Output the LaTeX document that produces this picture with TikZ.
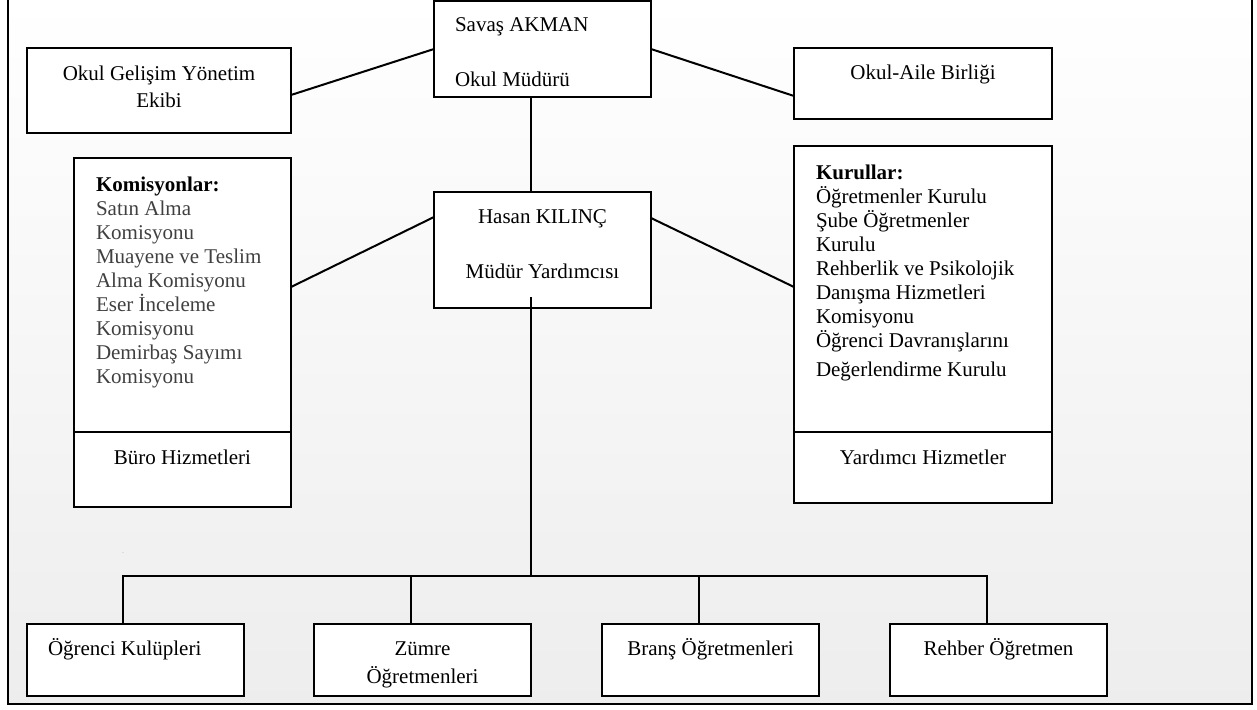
\documentclass[tikz,border=0pt]{standalone}
\usepackage{fontspec}
\setmainfont{Liberation Serif}
\usetikzlibrary{calc}
\definecolor{itemgray}{HTML}{404040}
\begin{document}
\begin{tikzpicture}[x=1pt,y=-1pt,
  box/.style={draw=black, line width=2pt, fill=white, inner sep=0pt, outer sep=0pt},
  conn/.style={line width=2pt, draw=black},
  frame/.style={line width=2.6pt, draw=black},
  txt/.style={inner sep=0pt, outer sep=0pt, font=\fontsize{21}{24}\selectfont},
  lt/.style={txt, anchor=base west},
  ct/.style={txt, anchor=base}]
\useasboundingbox (0,0) rectangle (1257,709);
\shade[top color=white, bottom color=black!7] (8,-2) rectangle (1252,704);
\draw[frame] (8,-5) -- (8,704) -- (1252,704) -- (1252,-5);

% boxes
\node[box, minimum width=217pt, minimum height=96pt] (sav) at (542.5,49) {};
\node[box, minimum width=264pt, minimum height=85pt] (ogye) at (159,90.5) {};
\node[box, minimum width=258pt, minimum height=71pt] (oab) at (923,83.5) {};
\node[box, minimum width=217pt, minimum height=274pt] (kom) at (182.5,295) {};
\node[box, minimum width=217pt, minimum height=75pt] (buro) at (182.5,469.5) {};
\node[box, minimum width=258pt, minimum height=286pt] (kur) at (923,289) {};
\node[box, minimum width=258pt, minimum height=71pt] (yard) at (923,467.5) {};
\node[box, minimum width=217pt, minimum height=116pt] (has) at (542.5,250) {};
\node[box, minimum width=217pt, minimum height=72pt] (b1) at (135.5,660) {};
\node[box, minimum width=217pt, minimum height=72pt] (b2) at (422.5,660) {};
\node[box, minimum width=217pt, minimum height=72pt] (b3) at (710.5,660) {};
\node[box, minimum width=217pt, minimum height=72pt] (b4) at (998.5,660) {};

% texts
\node[lt] (sav1) at (455,32) {Savaş AKMAN};
\node[lt] (sav2) at (455,86) {Okul Müdürü};
\node[ct] (ogye1) at (159,80) {Okul Gelişim Yönetim};
\node[ct] (ogye2) at (159,107) {Ekibi};
\node[ct] (oab1) at (923,79) {Okul-Aile Birliği};
\node[lt] (komh) at (96,191) {\bfseries Komisyonlar:};
\foreach \t [count=\i] in {Satın Alma, Komisyonu, Muayene ve Teslim, Alma Komisyonu, Eser İnceleme, Komisyonu, Demirbaş Sayımı, Komisyonu}
  \node[lt, text=itemgray] (komi\i) at (96,{191+24*\i}) {\t};
\node[ct] (buro1) at (182.5,464) {Büro Hizmetleri};
\node[lt] (kurh) at (816,179) {\bfseries Kurullar:};
\foreach \t [count=\i] in {Öğretmenler Kurulu, Şube Öğretmenler, Kurulu, Rehberlik ve Psikolojik, Danışma Hizmetleri, Komisyonu, Öğrenci Davranışlarını}
  \node[lt] (kuri\i) at (816,{179+24*\i}) {\t};
\node[lt] (kuri8) at (816,376) {Değerlendirme Kurulu};
\node[ct] (yard1) at (923,464) {Yardımcı Hizmetler};
\node[ct] (has1) at (542.5,223) {Hasan KILINÇ};
\node[ct] (has2) at (542.5,278) {Müdür Yardımcısı};
\node[lt] (b1t) at (48,655) {Öğrenci Kulüpleri};
\node[ct] (b2t) at (422.5,655) {Zümre};
\node[ct] (b2u) at (422.5,683) {Öğretmenleri};
\node[ct] (b3t) at (710.5,655) {Branş Öğretmenleri};
\node[ct] (b4t) at (998.5,655) {Rehber Öğretmen};
\node[inner sep=0pt, anchor=base, text=gray, font=\fontsize{6}{6}\selectfont] (dot) at (123,553) {.};

% connectors
\draw[conn] ([yshift=-4.5pt]ogye.east) -- (sav.west);
\draw[conn] (sav.east) -- ([yshift=-12.5pt]oab.west);
\draw[conn] ([yshift=8pt]kom.east) -- ([yshift=33pt]has.west);
\draw[conn] ([yshift=32pt]has.east) -- ([yshift=2pt]kur.west);
\draw[conn] ([xshift=-11.5pt]sav.south) -- ([xshift=-11.5pt]has.north);
\coordinate (bus) at (531,576);
\coordinate (d1) at ([xshift=-12.5pt]b1.north);
\coordinate (d2) at ([xshift=-11.5pt]b2.north);
\coordinate (d3) at ([xshift=-11.5pt]b3.north);
\coordinate (d4) at ([xshift=-11.5pt]b4.north);
\draw[conn] ([xshift=-11.5pt,yshift=11pt]has.south) -- (bus);
\draw[conn] (d1) |- (bus) -| (d4);
\draw[conn] (d2) -- (d2 |- bus);
\draw[conn] (d3) -- (d3 |- bus);
\end{tikzpicture}
\end{document}
